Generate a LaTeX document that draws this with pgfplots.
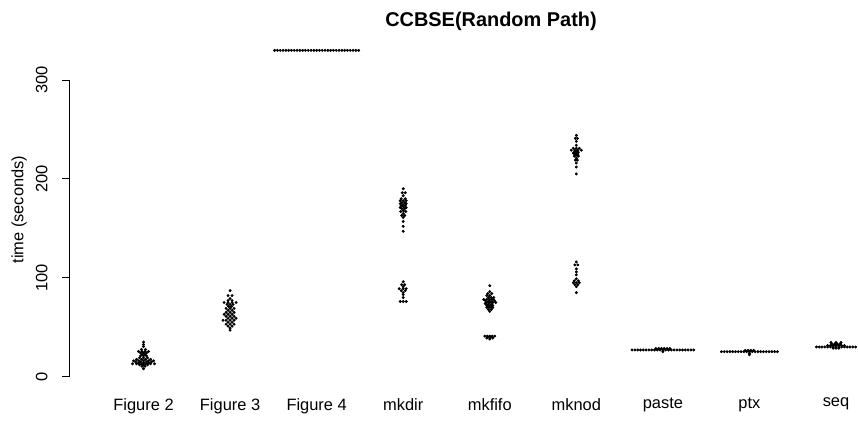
\documentclass[border=0pt]{standalone}
\usepackage{pgfplots}
\pgfplotsset{compat=1.18}
\usepackage{fontspec}
\setmainfont{Liberation Sans}
\begin{document}
\begin{tikzpicture}
\useasboundingbox (0,0) rectangle (858bp,439bp);
\begin{axis}[
  at={(69bp,57.4bp)}, anchor=south west,
  scale only axis, width=789bp, height=344.1bp,
  xmin=0.139, xmax=9.254, ymin=-5, ymax=343,
  axis lines*=left, axis line style={draw=none},
  xtick={1,2,3,4,5,6,7,8,9},
  xticklabels={Figure 2,Figure 3,Figure 4,mkdir,mkfifo,mknod,paste,ptx,seq},
  xtick style={draw=none},
  ytick={0,100,200,300},
  tick align=outside, major tick length=7bp,
  ytick style={black, line width=0.9bp},
  /pgf/number format/assume math mode=true,
  every tick label/.append style={font=\fontsize{16.5}{19}\selectfont},
  xticklabel style={yshift=-6bp},
  yticklabel style={rotate=90, anchor=south, yshift=11bp},
  clip=false,
  dot/.style={black, only marks, mark=*, mark size=1.15bp, mark options={line width=0.6bp, fill=black, draw=black, solid}},
]
\draw[line width=0.9bp] (axis cs:0.139,0) -- (axis cs:0.139,300);
% Figure 2
\addplot[dot] table[x expr=\thisrow{c}+\thisrow{dx}/86.56, y=y] {
c dx y
1 0 35
1 0 32.5
1 0 30.5
1 -2 27.5
1 2 27.5
1 -5 25.5
1 -1.5 25.5
1 1.5 25.5
1 5 25.5
1 -3 24
1 0 24
1 3 24
1 -1.5 22.5
1 1.5 22.5
1 0 21
1 -3 21
1 3 21
1 -4 19
1 0 19
1 4 19
1 -7 17.5
1 -2 17.5
1 2 17.5
1 7 17.5
1 -10 16
1 -5 16
1 0 16
1 5 16
1 10 16
1 -3 15
1 3 15
1 -8 15
1 8 15
1 0 14
1 -5 14
1 5 14
1 -2 13
1 2 13
1 -7 13
1 7 13
1 -11 13
1 11 13
1 0 12
1 -4 12
1 4 12
1 -1.5 10.5
1 1.5 10.5
1 0 8
};
% Figure 3
\addplot[dot] table[x expr=\thisrow{c}+\thisrow{dx}/86.56, y=y] {
c dx y
2 0 87
2 -2 82
2 2 82
2 0 79
2 -2 77
2 2 77
2 -6 75
2 -2 75
2 2 75
2 6 75
2 0 73
2 -3 73
2 3 73
2 -1.5 71
2 1.5 71
2 0 69
2 -4 69
2 4 69
2 -2 67
2 2 67
2 0 65
2 -4 65
2 4 65
2 -2 63
2 2 63
2 -6 63
2 0 61
2 -4 61
2 4 61
2 -2 59
2 2 59
2 6 59
2 0 57
2 -4 57
2 4 57
2 -7 57
2 -2 55
2 2 55
2 0 53
2 -4 53
2 4 53
2 -2 51
2 2 51
2 0 49
2 0 47
};
% Figure 4
\addplot[dot] table[x expr=\thisrow{c}+\thisrow{dx}/86.56, y=y] {
c dx y
3 0 330
3 -2.8 330
3 2.8 330
3 -5.6 330
3 5.6 330
3 -8.4 330
3 8.4 330
3 -11.2 330
3 11.2 330
3 -14 330
3 14 330
3 -16.8 330
3 16.8 330
3 -19.6 330
3 19.6 330
3 -22.4 330
3 22.4 330
3 -25.2 330
3 25.2 330
3 -28 330
3 28 330
3 -30.8 330
3 30.8 330
3 -33.6 330
3 33.6 330
3 -36.4 330
3 36.4 330
3 -39.2 330
3 39.2 330
3 -42 330
3 42 330
};
% mkdir
\addplot[dot] table[x expr=\thisrow{c}+\thisrow{dx}/86.56, y=y] {
c dx y
4 0 190
4 -1 186
4 2 186
4 0 183
4 -2 180
4 2 180
4 0 178
4 -3 178
4 3 178
4 -1.5 176
4 1.5 176
4 -3 175
4 3 175
4 0 174
4 -2 173
4 2 173
4 0 172
4 -3 171
4 3 171
4 -1.5 170
4 1.5 170
4 0 168
4 -2.5 167
4 2.5 167
4 0 165
4 -1.5 163
4 1.5 163
4 0 161
4 0 157
4 0 152
4 0 147
4 0 96
4 -1.5 93
4 1.5 93
4 0 91
4 -4 89
4 0 89
4 3 89
4 -2 87
4 2 87
4 0 85
4 0 83
4 0 80
4 -3 76
4 0 76
4 3 76
};
% mkfifo
\addplot[dot] table[x expr=\thisrow{c}+\thisrow{dx}/86.56, y=y] {
c dx y
5 0 92
5 0 86
5 -2 84
5 2 84
5 0 82
5 -3 82
5 -1.5 80
5 1.5 80
5 4 80
5 0 78
5 -3 78
5 3 78
5 -6 78
5 -4.5 77
5 4.5 77
5 -1.5 76
5 1.5 76
5 0 75
5 -3 75
5 3 75
5 6 75
5 -4.5 74
5 -1.5 73
5 1.5 73
5 0 72
5 -3 72
5 3 72
5 -1.5 71
5 1.5 71
5 0 70
5 -3 70
5 3 70
5 -1.5 68
5 1.5 68
5 0 66
5 -5 41
5 -2.5 41
5 0 41
5 2.5 41
5 5 41
5 -1 40
5 1 40
5 -3 39
5 3 39
5 0 38
};
% mknod
\addplot[dot] table[x expr=\thisrow{c}+\thisrow{dx}/86.56, y=y] {
c dx y
6 0 244
6 -1 241
6 1 241
6 0 238
6 0 234
6 -3 231
6 0 231
6 3 231
6 -5 229
6 -1.5 229
6 1.5 229
6 5 229
6 0 228
6 -2 227
6 2 227
6 0 226
6 -3 226
6 -1.5 225
6 1.5 225
6 0 224
6 -2 223
6 2 223
6 0 221
6 -1 219
6 1 219
6 0 216
6 0 212
6 0 205
6 0 116
6 -1.5 113
6 1.5 113
6 0 109
6 0 106
6 0 103
6 0 99
6 -2 97
6 2 97
6 -3 95
6 0 95
6 3 95
6 -1.5 93
6 1.5 93
6 0 91
6 0 85
};
% paste
\addplot[dot] table[x expr=\thisrow{c}+\thisrow{dx}/86.56, y=y] {
c dx y
7 0 27
7 -2.8 27
7 2.8 27
7 -5.6 27
7 5.6 27
7 -8.4 27
7 8.4 27
7 -11.2 27
7 11.2 27
7 -14 27
7 14 27
7 -16.8 27
7 16.8 27
7 -19.6 27
7 19.6 27
7 -22.4 27
7 22.4 27
7 -25.2 27
7 25.2 27
7 -28 27
7 28 27
7 -30.8 27
7 30.8 27
7 -7 28.5
7 -4.2 28.5
7 -1.4 28.5
7 1.4 28.5
7 4.2 28.5
7 7 28.5
7 0 25.3
};
% ptx
\addplot[dot] table[x expr=\thisrow{c}+\thisrow{dx}/86.56, y=y] {
c dx y
8 0 25.3
8 -2.8 25.3
8 2.8 25.3
8 -5.6 25.3
8 5.6 25.3
8 -8.4 25.3
8 8.4 25.3
8 -11.2 25.3
8 11.2 25.3
8 -14 25.3
8 14 25.3
8 -16.8 25.3
8 16.8 25.3
8 -19.6 25.3
8 19.6 25.3
8 -22.4 25.3
8 22.4 25.3
8 -25.2 25.3
8 25.2 25.3
8 -28 25.3
8 28 25.3
8 -4.2 26.6
8 -1.4 26.6
8 1.4 26.6
8 4.2 26.6
8 0 23.7
8 0 22.2
};
% seq
\addplot[dot] table[x expr=\thisrow{c}+\thisrow{dx}/86.56, y=y] {
c dx y
9 0 30
9 -2.8 30
9 2.8 30
9 -5.6 30
9 5.6 30
9 -8.4 30
9 8.4 30
9 -11.2 30
9 11.2 30
9 -14 30
9 14 30
9 -16.8 30
9 16.8 30
9 -19.6 30
9 19.6 30
9 -8.4 31.5
9 -5.6 31.5
9 -2.8 31.5
9 0 31.5
9 2.8 31.5
9 5.6 31.5
9 8.4 31.5
9 -4.2 33
9 -1.4 33
9 1.4 33
9 4.2 33
9 -5 34.5
9 0 34.5
9 5 34.5
9 -2.8 28.8
9 0 28.8
9 2.8 28.8
};
\end{axis}
\node[font=\fontsize{20}{24}\selectfont\bfseries] at (491bp,418bp) {CCBSE(Random Path)};
\node[font=\fontsize{16.5}{19}\selectfont, rotate=90] at (19bp,229.4bp) {time (seconds)};
\end{tikzpicture}
\end{document}
